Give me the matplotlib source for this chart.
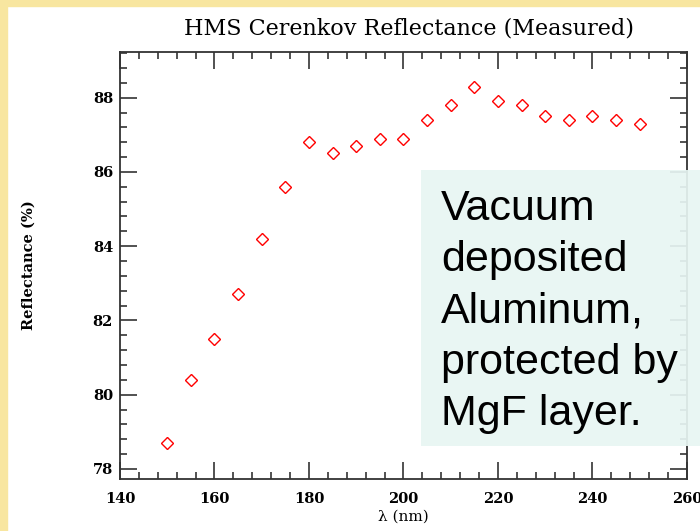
import numpy as np
import matplotlib.pyplot as plt
from matplotlib.patches import Rectangle
from matplotlib.ticker import MultipleLocator

# wavelength (nm) and measured reflectance (%)
wavelength = [150, 155, 160, 165, 170, 175, 180, 185, 190, 195, 200,
              205, 210, 215, 220, 225, 230, 235, 240, 245, 250]
reflectance = [78.7, 80.4, 81.5, 82.7, 84.2, 85.6, 86.8, 86.5, 86.7, 86.9, 86.9,
               87.4, 87.8, 88.3, 87.9, 87.8, 87.5, 87.4, 87.5, 87.4, 87.3]
err = [0.15] * len(wavelength)

title = 'HMS Cerenkov Reflectance (Measured)'
note = 'Vacuum\ndeposited\nAluminum,\nprotected by\nMgF layer.'

fig = plt.figure(figsize=(7, 5.31), dpi=100)
ax = fig.add_axes([0.1714, 0.0979, 0.81, 0.8042])

ax.errorbar(wavelength, reflectance, yerr=err, fmt='D', ms=6, mfc='white',
            mec='red', mew=1.0, ecolor='red', elinewidth=1.0, capsize=0)

ax.set_xlim(140, 260)
ax.set_ylim(77.73, 89.23)
ax.xaxis.set_major_locator(MultipleLocator(20))
ax.xaxis.set_minor_locator(MultipleLocator(4))
ax.yaxis.set_major_locator(MultipleLocator(2))
ax.yaxis.set_minor_locator(MultipleLocator(0.4))

ax.tick_params(which='both', direction='in', top=True, right=True,
               color='#333333', width=1.2)
ax.tick_params(which='major', length=12)
ax.tick_params(which='minor', length=5)
ax.tick_params(axis='x', pad=9)
ax.tick_params(axis='y', pad=5)
for lab in ax.get_xticklabels() + ax.get_yticklabels():
    lab.set_family('DejaVu Serif')
    lab.set_fontsize(10.5)
    lab.set_fontweight('bold')
for s in ax.spines.values():
    s.set_color('#333333')
    s.set_linewidth(1.3)

ax.set_xlabel('λ (nm)', family='DejaVu Serif', fontsize=11, labelpad=3)
ax.set_ylabel('Reflectance (%)', family='DejaVu Serif', fontsize=10.5,
              fontweight='bold', labelpad=41)
fig.text(0.584, 0.947, title, family='DejaVu Serif', fontsize=16,
         ha='center', va='center')

# yellow page edges
fig.patches.append(Rectangle((0, 1 - 6 / 531), 1, 6 / 531, transform=fig.transFigure,
                             color='#f8e6a0', zorder=3))
fig.patches.append(Rectangle((0, 0), 7 / 700, 1, transform=fig.transFigure,
                             color='#f8e6a0', zorder=3))

# annotation box
fig.patches.append(Rectangle((421 / 700, 1 - 446 / 531), 279 / 700, 276 / 531,
                             transform=fig.transFigure, facecolor='#e8f6f3',
                             edgecolor='none', alpha=0.92, zorder=3))
fig.text(441 / 700, 1 - 424.7 / 531, note, family='Liberation Sans', fontsize=31,
         ha='left', va='baseline', linespacing=1.36, zorder=4)

plt.savefig('out.png', dpi=100)
